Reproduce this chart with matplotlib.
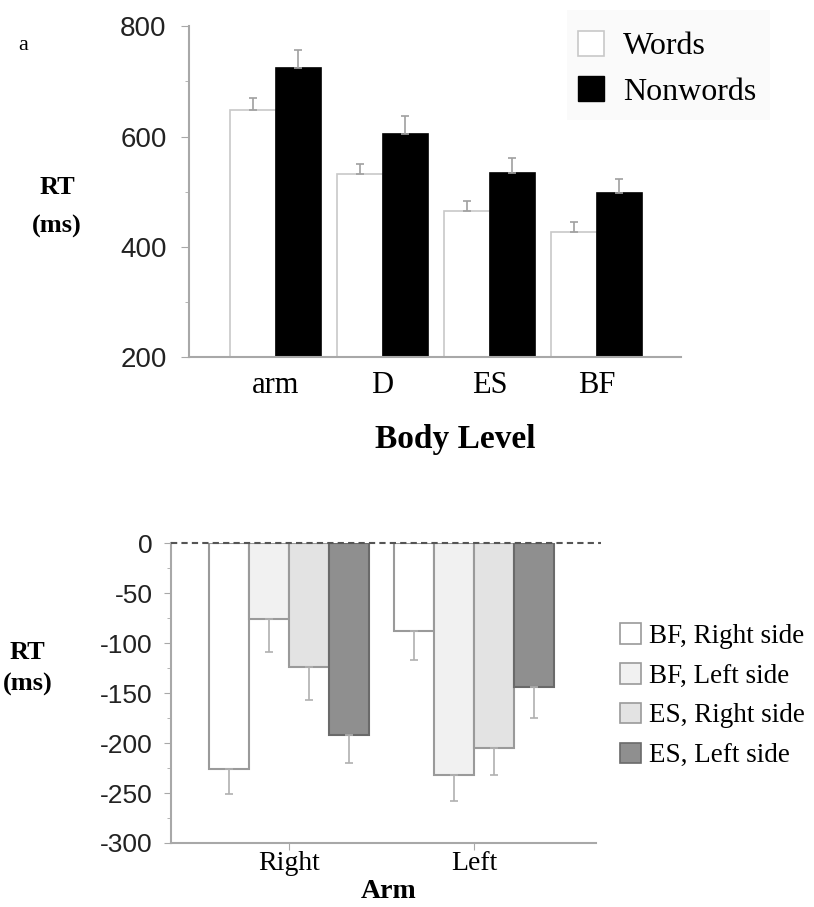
import matplotlib.pyplot as plt
import numpy as np
from matplotlib.patches import Patch, Rectangle
from matplotlib.ticker import MultipleLocator

plt.rcParams['axes.unicode_minus'] = False

# top panel: RT by body level
levels = ['arm', 'D', 'ES', 'BF']
words = [649, 532, 465, 428]
words_err = [21, 18, 18, 18]
nonwords = [725, 605, 535, 498]
nonwords_err = [32, 32, 26, 25]

# bottom panel: RT difference by arm
arms = ['Right', 'Left']
series = ['BF, Right side', 'BF, Left side', 'ES, Right side', 'ES, Left side']
diff = [[-226, -88], [-76, -232], [-124, -205], [-192, -144]]
diff_err = [[25, 29], [33, 26], [33, 27], [28, 31]]
colors = ['#ffffff', '#f1f1f1', '#e3e3e3', '#8f8f8f']
edges = ['#9a9a9a', '#9a9a9a', '#9a9a9a', '#6a6a6a']

serif = 'Liberation Serif'
sans = 'Liberation Sans'
axc = '#a8a8a8'

fig = plt.figure(figsize=(8.14, 9.07), dpi=100)

# ---- top
ax1 = fig.add_axes([0.232, 0.606, 0.605, 0.365])
x = np.arange(len(levels))
w = 0.424
ax1.bar(x - w/2, words, w, color='white', edgecolor='#c8c8c8', lw=1.2,
        yerr=[np.zeros(4), words_err], capsize=3,
        error_kw=dict(ecolor='#a0a0a0', elinewidth=1.2, capthick=1.2), zorder=2)
ax1.bar(x + w/2, nonwords, w, color='black', edgecolor='black', lw=1.2,
        yerr=[np.zeros(4), nonwords_err], capsize=3,
        error_kw=dict(ecolor='#a0a0a0', elinewidth=1.2, capthick=1.2), zorder=2)
ax1.set_ylim(200, 800)
ax1.set_xlim(-0.81, 3.79)
ax1.yaxis.set_major_locator(MultipleLocator(200))
ax1.yaxis.set_minor_locator(MultipleLocator(100))
ax1.set_xticks(x)
ax1.set_xticklabels(levels, fontfamily=serif, fontsize=22)
ax1.tick_params(axis='x', length=0, pad=10)
ax1.tick_params(axis='y', which='major', length=6, color=axc, labelsize=20, pad=10)
ax1.tick_params(axis='y', which='minor', length=3, color=axc)
for t in ax1.get_yticklabels():
    t.set_fontfamily(sans)
    t.set_color('#222222')
for s in ['top', 'right']:
    ax1.spines[s].set_visible(False)
for s in ['left', 'bottom']:
    ax1.spines[s].set_color(axc)
    ax1.spines[s].set_linewidth(1.5)
fig.text(0.559, 0.515, 'Body Level', fontfamily=serif, fontsize=24, fontweight='bold',
         ha='center', va='center')

fig.patches.append(Rectangle((0.697, 0.868), 0.249, 0.121, transform=fig.transFigure,
                             facecolor='#fafafa', edgecolor='none', zorder=0))
h1 = [Patch(facecolor='white', edgecolor='#c8c8c8', lw=1.2),
      Patch(facecolor='black', edgecolor='black')]
fig.legend(h1, ['Words', 'Nonwords'], loc='upper left', bbox_to_anchor=(0.675, 0.998),
           frameon=False, prop={'family': serif, 'size': 23}, handlelength=0.8,
           handleheight=0.85, handletextpad=0.6, labelspacing=0.45)

fig.text(0.022, 0.950, 'a', fontfamily=serif, fontsize=16, va='center')
fig.text(0.070, 0.793, 'RT', fontfamily=serif, fontsize=19, fontweight='bold', ha='center', va='center')
fig.text(0.070, 0.750, '(ms)', fontfamily=serif, fontsize=19, fontweight='bold', ha='center', va='center')

# ---- bottom
ax2 = fig.add_axes([0.210, 0.0706, 0.522, 0.3304])
xb = np.arange(len(arms))
bw = 0.216
for i in range(len(series)):
    off = (i - 1.5) * bw
    ax2.bar(xb + off, diff[i], bw, color=colors[i], edgecolor=edges[i], lw=1.5,
            yerr=[diff_err[i], [0, 0]], capsize=3,
            error_kw=dict(ecolor='#b0b0b0', elinewidth=1.2, capthick=1.2), zorder=2)
ax2.set_ylim(-300, 0)
ax2.set_xlim(-0.64, 1.66)
ax2.plot([-0.64, 1.69], [0, 0], ls=(0, (3, 2)), color='#555555', lw=1.5, clip_on=False, zorder=3)
ax2.yaxis.set_major_locator(MultipleLocator(50))
ax2.yaxis.set_minor_locator(MultipleLocator(25))
ax2.set_xticks(xb)
ax2.set_xticklabels(arms, fontfamily=serif, fontsize=20)
ax2.tick_params(axis='x', length=5, color=axc, pad=1)
ax2.tick_params(axis='y', which='major', length=5, color=axc, labelsize=19, pad=8)
ax2.tick_params(axis='y', which='minor', length=3, color=axc)
for t in ax2.get_yticklabels():
    t.set_fontfamily(sans)
    t.set_color('#222222')
for s in ['top', 'right']:
    ax2.spines[s].set_visible(False)
for s in ['left', 'bottom']:
    ax2.spines[s].set_color(axc)
    ax2.spines[s].set_linewidth(1.5)
fig.text(0.477, 0.017, 'Arm', fontfamily=serif, fontsize=20, fontweight='bold',
         ha='center', va='center')

h2 = [Patch(facecolor=colors[i], edgecolor=edges[i], lw=1.2) for i in range(4)]
fig.legend(h2, series, loc='upper left', bbox_to_anchor=(0.732, 0.340),
           frameon=False, prop={'family': serif, 'size': 19.5}, handlelength=0.75,
           handleheight=0.8, handletextpad=0.3, labelspacing=0.52)

fig.text(0.034, 0.281, 'RT', fontfamily=serif, fontsize=19, fontweight='bold', ha='center', va='center')
fig.text(0.034, 0.245, '(ms)', fontfamily=serif, fontsize=19, fontweight='bold', ha='center', va='center')

fig.savefig('out.png', dpi=100)
